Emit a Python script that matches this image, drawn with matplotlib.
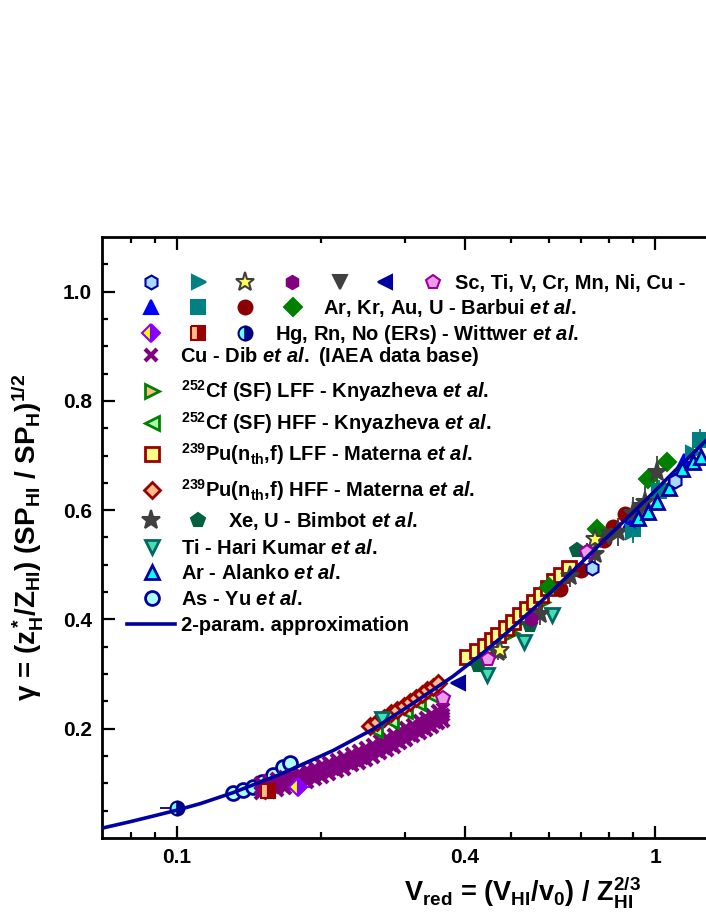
import matplotlib
matplotlib.use('Agg')
import matplotlib.pyplot as plt
from matplotlib.lines import Line2D
from matplotlib.ticker import FixedLocator, NullFormatter

plt.rcParams['font.family'] = ['Liberation Sans', 'DejaVu Sans']
plt.rcParams['font.weight'] = 'bold'
plt.rcParams['mathtext.fontset'] = 'custom'
plt.rcParams['mathtext.rm'] = 'Liberation Sans:bold'
plt.rcParams['mathtext.it'] = 'Liberation Sans:italic:bold'
plt.rcParams['mathtext.bf'] = 'Liberation Sans:bold'

# ---- data ----
# 2-param approximation
fit_x = [0.0697, 0.08, 0.09, 0.1, 0.112, 0.131, 0.164, 0.212, 0.257, 0.311, 0.378,
         0.43, 0.49, 0.57, 0.672, 0.793, 0.96, 1.1, 1.28, 1.6]
fit_y = [0.018, 0.030, 0.041, 0.051, 0.063, 0.083, 0.116, 0.160, 0.199, 0.246, 0.296,
         0.334, 0.376, 0.428, 0.488, 0.550, 0.620, 0.672, 0.728, 0.81]

# Cu - Dib (IAEA) : dense band
cu_x = [0.150, 0.156, 0.162, 0.168, 0.174, 0.180, 0.187, 0.194, 0.201, 0.208, 0.216, 0.224,
        0.232, 0.240, 0.248, 0.257, 0.266, 0.275, 0.284, 0.293, 0.302, 0.312, 0.322, 0.332,
        0.342, 0.352, 0.360]
cu_low = [0.083, 0.085, 0.088, 0.092, 0.095, 0.099, 0.103, 0.108, 0.112, 0.117, 0.122, 0.127,
          0.133, 0.138, 0.143, 0.149, 0.155, 0.161, 0.167, 0.173, 0.179, 0.186, 0.192, 0.198,
          0.204, 0.210, 0.214]
cu_mid = [0.092, 0.095, 0.099, 0.103, 0.106, 0.110, 0.115, 0.119, 0.124, 0.128, 0.134, 0.139,
          0.145, 0.150, 0.155, 0.161, 0.167, 0.173, 0.179, 0.185, 0.191, 0.197, 0.204, 0.210,
          0.216, 0.221, 0.226]
cu_high = [0.100, 0.104, 0.108, 0.112, 0.115, 0.119, 0.124, 0.129, 0.133, 0.138, 0.143, 0.148,
           0.154, 0.159, 0.165, 0.171, 0.177, 0.183, 0.189, 0.195, 0.201, 0.207, 0.214, 0.220,
           0.226, 0.232, 0.236]
cu_x2 = [0.153, 0.159, 0.165, 0.171, 0.177, 0.184, 0.191, 0.198, 0.205, 0.212, 0.220, 0.228,
         0.236, 0.244, 0.253, 0.262, 0.271, 0.280, 0.289, 0.298, 0.307, 0.317, 0.327, 0.337,
         0.347, 0.356]
cu_y2 = [0.090, 0.094, 0.098, 0.101, 0.105, 0.109, 0.113, 0.118, 0.122, 0.127, 0.132, 0.137,
         0.142, 0.147, 0.153, 0.159, 0.165, 0.171, 0.177, 0.183, 0.189, 0.195, 0.201, 0.207,
         0.213, 0.219]

# Sc, Ti, V, Cr, Mn, Ni, Cu
hexlb_x, hexlb_y = [0.738, 1.10], [0.495, 0.653]
trir_x, trir_y = [0.90, 1.20], [0.560, 0.705]
stary_x, stary_y = [0.474, 0.750], [0.345, 0.547]
hexpu_x, hexpu_y = [0.55, 0.72], [0.400, 0.525]
trid_x, trid_y = [0.80, 0.93], [0.550, 0.600]
tril_x, tril_y = [0.387], [0.284]
pent_x, pent_y = [0.36, 0.448, 0.72], [0.257, 0.327, 0.523]

# Barbui
bar_tri_x, bar_tri_y = [0.88, 1.15], [0.575, 0.690]
bar_sq_x, bar_sq_y = [0.90, 1.02, 1.24], [0.565, 0.636, 0.728]
bar_o_x, bar_o_y = [0.634, 0.70, 0.78, 0.815, 0.866], [0.455, 0.490, 0.545, 0.570, 0.593]
bar_d_x, bar_d_y = [0.60, 0.756, 0.965, 1.06], [0.460, 0.565, 0.657, 0.688]

# Wittwer (ERs)
wit_d_x, wit_d_y = [0.179], [0.094]
wit_s_x, wit_s_y = [0.155], [0.086]
wit_o_x, wit_o_y = [0.100], [0.054]

# Knyazheva 252Cf
cfl_x = [0.43, 0.46, 0.50, 0.54, 0.58, 0.62]
cfl_y = [0.328, 0.348, 0.376, 0.404, 0.432, 0.458]
cfh_x = [0.26, 0.28, 0.30, 0.32, 0.34]
cfh_y = [0.198, 0.214, 0.232, 0.248, 0.262]

# Materna 239Pu
pul_x = [0.405, 0.425, 0.44, 0.455, 0.47, 0.487, 0.504, 0.521, 0.539, 0.557, 0.576, 0.596,
         0.616, 0.637, 0.66]
pul_y = [0.332, 0.342, 0.352, 0.362, 0.372, 0.384, 0.396, 0.408, 0.420, 0.432, 0.445, 0.458,
         0.470, 0.482, 0.495]
puh_x = [0.253, 0.262, 0.271, 0.280, 0.289, 0.298, 0.307, 0.316, 0.325, 0.334, 0.343, 0.352]
puh_y = [0.205, 0.212, 0.220, 0.228, 0.235, 0.242, 0.249, 0.256, 0.263, 0.270, 0.277, 0.284]

# Bimbot
bim_s_x = [0.47, 0.575, 0.664, 0.75, 0.836, 0.90, 0.953, 1.01]
bim_s_y = [0.341, 0.410, 0.479, 0.520, 0.560, 0.595, 0.615, 0.670]
bim_s_err = [0.015, 0.02, 0.02, 0.025, 0.025, 0.03, 0.03, 0.03]
bim_p_x, bim_p_y = [0.427, 0.548, 0.687], [0.316, 0.390, 0.528]

# Hari Kumar, Alanko, Yu
hk_x, hk_y = [0.268, 0.446, 0.533, 0.61], [0.217, 0.299, 0.358, 0.409]
al_x = [0.92, 0.966, 1.01, 1.07, 1.14, 1.20, 1.25]
al_y = [0.585, 0.596, 0.615, 0.640, 0.675, 0.688, 0.697]
yu_x = [0.131, 0.1374, 0.1442, 0.1505, 0.1588, 0.1665, 0.1723]
yu_y = [0.083, 0.088, 0.094, 0.103, 0.116, 0.130, 0.138]

# ---- styles ----
NAVY = '#0000a0'
st = {
    'hexlb': dict(marker='h', mfc='#aad8ff', mec=NAVY, ms=10),
    'trir': dict(marker='>', mfc='#008080', mec='#008080'),
    'stary': dict(marker='*', mfc='#ffff55', mec='#404040', ms=14),
    'hexpu': dict(marker='h', mfc='#800080', mec='#800080'),
    'trid': dict(marker='v', mfc='#404040', mec='#404040'),
    'tril': dict(marker='<', mfc=NAVY, mec=NAVY),
    'pent': dict(marker='p', mfc='#ee99ee', mec='#990099', ms=10),
    'bar_tri': dict(marker='^', mfc='#0000ff', mec='#0000ff'),
    'bar_sq': dict(marker='s', mfc='#008080', mec='#008080'),
    'bar_o': dict(marker='o', mfc='#8b0000', mec='#8b0000', ms=10),
    'bar_d': dict(marker='D', mfc='#008000', mec='#008000'),
    'wit_d': dict(marker='D', fillstyle='left', mfc='#ffff00', mfcalt='#8800ff', mec='#8800ff'),
    'wit_s': dict(marker='s', fillstyle='left', mfc='#ffbb88', mfcalt='#990000', mec='#990000'),
    'wit_o': dict(marker='o', fillstyle='left', mfc='#66ffff', mfcalt='#000080', mec='#000080', ms=10),
    'cu': dict(marker='x', mfc='#800080', mec='#800080', ms=9, mew=3),
    'cfl': dict(marker='>', mfc='#ffbb88', mec='#008000', mew=2),
    'cfh': dict(marker='<', mfc='#aaffaa', mec='#008000', mew=2),
    'pul': dict(marker='s', mfc='#ffff88', mec='#990000', mew=2),
    'puh': dict(marker='D', mfc='#ffbb88', mec='#990000', mew=2, ms=8),
    'bim_s': dict(marker='*', mfc='#404040', mec='#404040', ms=14),
    'bim_p': dict(marker='p', mfc='#006040', mec='#006040', ms=10),
    'hk': dict(marker='v', mfc='#40e0b0', mec='#006666', mew=2),
    'al': dict(marker='^', mfc='#00ffff', mec=NAVY, mew=2),
    'yu': dict(marker='o', mfc='#aaffff', mec=NAVY, mew=2, ms=10),
}


def style(key):
    s = dict(ms=9.5, mew=1.5)
    s.update(st[key])
    return s


W, H = 706, 913
fig = plt.figure(figsize=(W / 100, H / 100), dpi=100)
ax = fig.add_axes([101.7 / W, 75 / H, 651 / W, 601 / H])


def pts(x, y, key, yerr=None, xerr=None, z=3):
    s = style(key)
    ax.errorbar(x, y, yerr=yerr, xerr=xerr, ls='none', ecolor=s['mec'],
                elinewidth=1.3, capsize=0, zorder=z, **s)


pts(yu_x, yu_y, 'yu', z=2)
pts(cu_x, cu_low, 'cu')
pts(cu_x, cu_mid, 'cu')
pts(cu_x2, cu_y2, 'cu')
pts(cu_x, cu_high, 'cu')
pts(wit_o_x, wit_o_y, 'wit_o', xerr=[[0.008], [0.0]])
pts(wit_s_x, wit_s_y, 'wit_s')
pts(wit_d_x, wit_d_y, 'wit_d', xerr=[[0.012], [0.012]])
pts(cfh_x, cfh_y, 'cfh')
pts(puh_x, puh_y, 'puh')
pts(cfl_x, cfl_y, 'cfl')
pts(pul_x, pul_y, 'pul')
pts(hk_x, hk_y, 'hk', yerr=0.01)
pts(bar_o_x, bar_o_y, 'bar_o')
pts(bar_d_x, bar_d_y, 'bar_d')
pts(bar_sq_x, bar_sq_y, 'bar_sq', yerr=0.02)
pts(bar_tri_x, bar_tri_y, 'bar_tri')
pts(bim_p_x, bim_p_y, 'bim_p')
pts(bim_s_x, bim_s_y, 'bim_s', yerr=bim_s_err)
pts(hexpu_x, hexpu_y, 'hexpu', yerr=0.015)
pts(trid_x, trid_y, 'trid', yerr=0.015)
pts(trir_x, trir_y, 'trir', yerr=0.02)
pts(stary_x, stary_y, 'stary')
pts(pent_x, pent_y, 'pent')
pts(tril_x, tril_y, 'tril')
pts(al_x, al_y, 'al', yerr=0.015)
pts(hexlb_x, hexlb_y, 'hexlb', yerr=0.015)

ax.plot(fit_x, fit_y, color=NAVY, lw=2.6, zorder=6)

ax.set_xscale('log')
ax.set_xlim(0.0696, 1.6)
ax.set_ylim(0, 1.1)
ax.xaxis.set_major_locator(FixedLocator([0.1, 0.4, 1.0]))
ax.set_xticklabels(['0.1', '0.4', '1'])
ax.xaxis.set_minor_locator(FixedLocator([0.08, 0.09, 0.2, 0.3, 0.5, 0.6, 0.7, 0.8, 0.9]))
ax.xaxis.set_minor_formatter(NullFormatter())
ax.set_yticks([0.2, 0.4, 0.6, 0.8, 1.0])
ax.set_yticklabels(['0.2', '0.4', '0.6', '0.8', '1.0'])
ax.yaxis.set_minor_locator(FixedLocator([0.05 * i for i in range(1, 22)]))
ax.tick_params(which='both', direction='in', top=True, right=True, width=1.6,
               labelsize=15)
ax.tick_params(which='major', length=9, pad=7)
ax.tick_params(which='minor', length=4.5)
for sp in ax.spines.values():
    sp.set_linewidth(2)

fig.text(27 / W, 1 - 537 / H,
         r'γ = (z$^*_{\mathrm{H}}$/Z$_{\mathrm{HI}}$) (SP$_{\mathrm{HI}}$ / SP$_{\mathrm{H}}$)$^{\mathrm{1/2}}$',
         rotation=90, ha='center', va='center', fontsize=20, fontweight='bold')
fig.text(523 / W, 1 - 892 / H,
         r'V$_{\mathrm{red}}$ = (V$_{\mathrm{HI}}$/v$_{\mathrm{0}}$) / Z$_{\mathrm{HI}}^{\mathrm{2/3}}$',
         ha='center', va='center', fontsize=19.5, fontweight='bold')


# ---- legend (pixel layout) ----
def leg_mark(px, py, key):
    fig.add_artist(Line2D([px / W], [1 - py / H], transform=fig.transFigure,
                          ls='none', **style(key)))


def leg_text(px, py, s):
    fig.text(px / W, 1 - (py + 7) / H, s, fontsize=14.5, fontweight='bold',
             ha='left', va='baseline')


etal = r'$\mathit{et\ al.}$'
row1 = ['hexlb', 'trir', 'stary', 'hexpu', 'trid', 'tril', 'pent']
for k, px in zip(row1, [151, 199, 245, 292, 340, 385, 433]):
    leg_mark(px, 282, k)
leg_text(455, 282, 'Sc, Ti, V, Cr, Mn, Ni, Cu -')

for k, px in zip(['bar_tri', 'bar_sq', 'bar_o', 'bar_d'], [151, 198, 245, 293]):
    leg_mark(px, 307, k)
leg_text(323, 307, 'Ar, Kr, Au, U - Barbui ' + etal)

for k, px in zip(['wit_d', 'wit_s', 'wit_o'], [151, 198, 245]):
    leg_mark(px, 333, k)
leg_text(275, 333, 'Hg, Rn, No (ERs) - Wittwer ' + etal)

leg_mark(151, 355, 'cu')
leg_text(180, 355, 'Cu - Dib ' + etal + ' (IAEA data base)')
leg_mark(152, 391, 'cfl')
leg_text(181, 391, r'$^{\mathrm{252}}$Cf (SF) LFF - Knyazheva ' + etal)
leg_mark(152, 423, 'cfh')
leg_text(181, 423, r'$^{\mathrm{252}}$Cf (SF) HFF - Knyazheva ' + etal)
leg_mark(152, 454, 'pul')
leg_text(181, 454, r'$^{\mathrm{239}}$Pu(n$_{\mathrm{th}}$,f) LFF - Materna ' + etal)
leg_mark(152, 490, 'puh')
leg_text(181, 490, r'$^{\mathrm{239}}$Pu(n$_{\mathrm{th}}$,f) HFF - Materna ' + etal)
leg_mark(151, 520, 'bim_s')
leg_mark(198, 520, 'bim_p')
leg_text(228, 520, 'Xe, U - Bimbot ' + etal)
leg_mark(152, 547, 'hk')
leg_text(181, 547, 'Ti - Hari Kumar ' + etal)
leg_mark(152, 572, 'al')
leg_text(181, 572, 'Ar - Alanko ' + etal)
leg_mark(152, 598, 'yu')
leg_text(181, 598, 'As - Yu ' + etal)
fig.add_artist(Line2D([127 / W, 175 / W], [1 - 624 / H] * 2, transform=fig.transFigure,
                      color=NAVY, lw=2.6))
leg_text(181, 624, '2-param. approximation')

fig.savefig('out.png', dpi=100)
